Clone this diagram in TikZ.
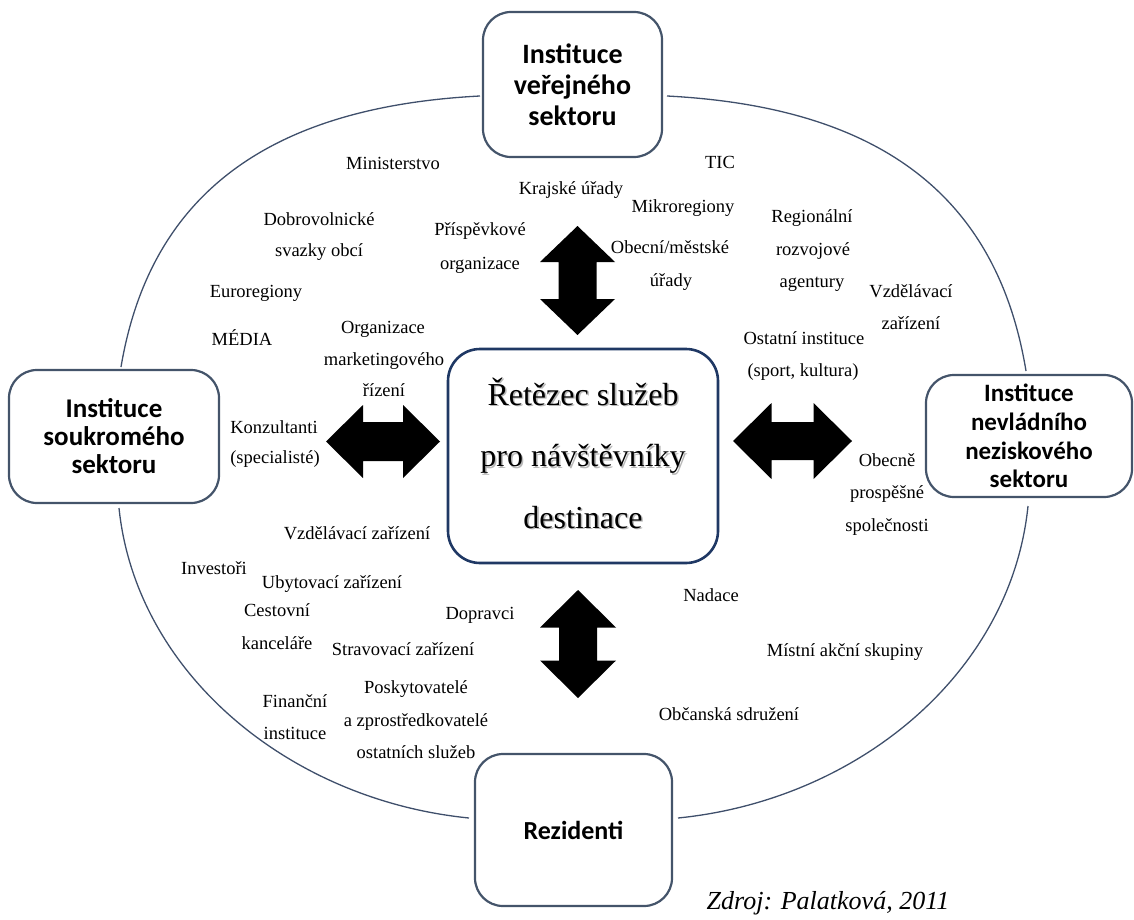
\documentclass[tikz,border=0pt]{standalone}
\usepackage{fontspec}
\setmainfont{Liberation Serif}
\newfontfamily\boxfont{Carlito}
\definecolor{boxc}{HTML}{44546A}
\definecolor{navyc}{HTML}{1F3864}
\definecolor{arcc}{HTML}{3F4F6B}
\definecolor{shadowc}{HTML}{B8B8B8}
\begin{document}
\begin{tikzpicture}[x=1pt,y=-1pt,
  outer/.style={draw=boxc, line width=2.2pt, rounded corners=28pt, fill=white, align=center, inner sep=0pt},
  centerbox/.style={draw=navyc, line width=2.6pt, rounded corners=32pt, fill=white, align=center, inner sep=0pt},
  lbl/.style={inner sep=0pt, text height=0.66em, text depth=0pt, font=\fontsize{18.5}{20}\selectfont},
  bigtext/.style={align=center, inner sep=0pt, font=\fontsize{32}{61.5}\selectfont},
  arcline/.style={draw=arcc, line width=1.3pt},
  blk/.style={fill=black}]
\useasboundingbox (0,0) rectangle (1134,920);

% outer boxes
\node[outer, minimum width=179pt, minimum height=145pt, font=\boxfont\bfseries\fontsize{28}{31}\selectfont] (pub) at (572.5,84.5) {Instituce\\veřejného\\sektoru};
\node[outer, minimum width=210pt, minimum height=133pt, font=\boxfont\bfseries\fontsize{27}{28}\selectfont] (priv) at (114,436.5) {Instituce\\soukromého\\sektoru};
\node[outer, minimum width=206pt, minimum height=122pt, font=\boxfont\bfseries\fontsize{25}{28.7}\selectfont] (ngo) at (1029,436) {Instituce\\nevládního\\neziskového\\sektoru};
\node[outer, minimum width=197pt, minimum height=152pt, font=\boxfont\bfseries\fontsize{26}{28}\selectfont] (rez) at (573.5,830) {Rezidenti};
\node[centerbox, minimum width=270pt, minimum height=214pt] (chain) at (583,456) {};
\node[bigtext, text=shadowc] (chainshadow) at (584.6,454.6) {Řetězec služeb\\pro návštěvníky\\destinace};
\node[bigtext] (chaintext) at (583,453) {Řetězec služeb\\pro návštěvníky\\destinace};

% arcs between outer boxes
\coordinate (a1s) at (480,96);   \coordinate (a1e) at (121,367);
\coordinate (a2s) at (667,96);   \coordinate (a2e) at (1026,371);
\coordinate (a3s) at (119,508);  \coordinate (a3e) at (469,818);
\coordinate (a4s) at (1028,506); \coordinate (a4e) at (678,818);
\draw[arcline] (a1s) .. controls (268,107) and (150,195) .. (a1e);
\draw[arcline] (a2s) .. controls (879,107) and (997,195) .. (a2e);
\draw[arcline] (a3s) .. controls (136,673) and (289,800) .. (a3e);
\draw[arcline] (a4s) .. controls (1011,673) and (858,800) .. (a4e);

% block arrows
\fill[blk, shift={(577.5,280.5)}] (0,-54.5) -- (37.5,-18.5) -- (19,-18.5) -- (19,18.5) -- (37.5,18.5) -- (0,54.5) -- (-37.5,18.5) -- (-19,18.5) -- (-19,-18.5) -- (-37.5,-18.5) -- cycle;
\fill[blk, shift={(578,644)}] (0,-54) -- (38,-16.5) -- (19,-16.5) -- (19,16.5) -- (38,16.5) -- (0,54) -- (-38,16.5) -- (-19,16.5) -- (-19,-16.5) -- (-38,-16.5) -- cycle;
\fill[blk, shift={(383,441.5)}] (-57,0) -- (-20,-36.5) -- (-20,-19.5) -- (20,-19.5) -- (20,-36.5) -- (57,0) -- (20,36.5) -- (20,19.5) -- (-20,19.5) -- (-20,36.5) -- cycle;
\fill[blk, shift={(792.5,441)}] (-59.5,0) -- (-21,-38) -- (-21,-19) -- (21,-19) -- (21,-38) -- (59.5,0) -- (21,38) -- (21,19) -- (-21,19) -- (-21,38) -- cycle;

% labels
\node[lbl] (l1) at (393,166) {Ministerstvo};
\node[lbl] (l2) at (319,222) {Dobrovolnické};
\node[lbl] (l3) at (319,253) {svazky obcí};
\node[lbl] (l4) at (256,294) {Euroregiony};
\node[lbl] (l5) at (242,342) {MÉDIA};
\node[lbl] (l6) at (480,232) {Příspěvkové};
\node[lbl] (l7) at (480,266) {organizace};
\node[lbl] (l8) at (383,330) {Organizace};
\node[lbl] (l9) at (384,362) {marketingového};
\node[lbl] (l10) at (384,393) {řízení};
\node[lbl] (l11) at (571,191) {Krajské úřady};
\node[lbl] (l12) at (274,430) {Konzultanti};
\node[lbl] (l13) at (275,460) {(specialisté)};

\node[lbl] (l14) at (720,165) {TIC};
\node[lbl] (l15) at (683,209) {Mikroregiony};
\node[lbl] (l16) at (670,250) {Obecní/městské};
\node[lbl] (l17) at (671,283) {úřady};
\node[lbl] (l18) at (812,219) {Regionální};
\node[lbl] (l19) at (813,252) {rozvojové};
\node[lbl] (l20) at (812,284) {agentury};
\node[lbl] (l21) at (911,294) {Vzdělávací};
\node[lbl] (l22) at (911,326) {zařízení};
\node[lbl] (l23) at (804,341) {Ostatní instituce};
\node[lbl] (l24) at (803,373) {(sport, kultura)};
\node[lbl] (l25) at (887,463) {Obecně};
\node[lbl] (l26) at (887,495) {prospěšné};
\node[lbl] (l27) at (887,528) {společnosti};

\node[lbl] (l28) at (711,598) {Nadace};
\node[lbl] (l29) at (845,653) {Místní akční skupiny};
\node[lbl] (l30) at (729,717) {Občanská sdružení};

\node[lbl] (l31) at (357,536) {Vzdělávací zařízení};
\node[lbl] (l32) at (214,571) {Investoři};
\node[lbl] (l33) at (332,585) {Ubytovací zařízení};
\node[lbl] (l34) at (277,613) {Cestovní};
\node[lbl] (l35) at (277,646) {kanceláře};
\node[lbl] (l36) at (403,652) {Stravovací zařízení};
\node[lbl] (l37) at (480,616) {Dopravci};
\node[lbl] (l38) at (416,690) {Poskytovatelé};
\node[lbl] (l39) at (416,723) {a zprostředkovatelé};
\node[lbl] (l40) at (416,755) {ostatních služeb};
\node[lbl] (l41) at (295,704) {Finanční};
\node[lbl] (l42) at (295,736) {instituce};

\node[inner sep=0pt, text height=0.66em, text depth=0pt, font=\fontsize{26}{28}\selectfont\itshape] (src) at (828,906.5) {Zdroj: Palatková, 2011};
\end{tikzpicture}
\end{document}
